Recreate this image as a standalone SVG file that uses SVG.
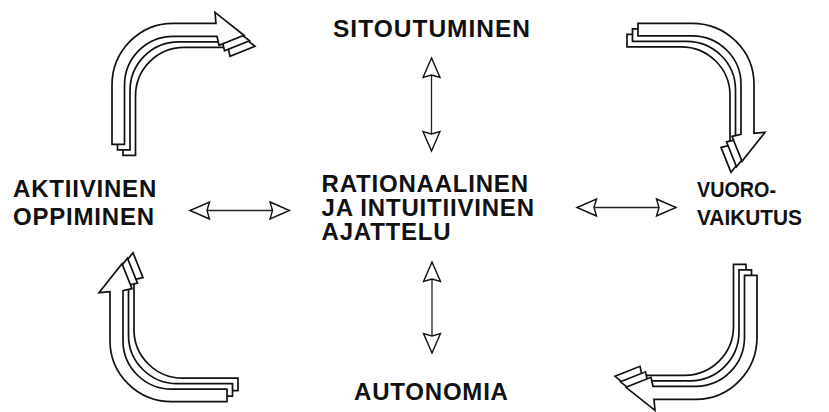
<svg xmlns="http://www.w3.org/2000/svg" xmlns:xlink="http://www.w3.org/1999/xlink" width="829" height="412" viewBox="0 0 829 412">
  <style>
    .band { fill: #fff; stroke: #111; stroke-width: 1.7; stroke-linejoin: miter; stroke-miterlimit: 6; }
    .link { stroke: #222; stroke-width: 1.3; fill: none; }
    .lbl { font-family: "Liberation Sans", Arial, sans-serif; font-weight: bold; font-size: 24px; letter-spacing: 0.8px; fill: #111; }
    .lbl-sm { font-size: 22px; letter-spacing: 0; }
  </style>
  <defs>
    <!-- open arrowhead for the two-way links -->
    <marker id="open-head" viewBox="0 0 20 18" refX="20" refY="9" markerWidth="20" markerHeight="18" markerUnits="userSpaceOnUse" orient="auto-start-reverse" overflow="visible">
      <path d="M0.5,0.5 L20,9 L0.5,17.5 L3,9 Z" fill="#fff" stroke="#111" stroke-width="1.4" stroke-linejoin="miter"/>
    </marker>
    <!-- curved band arrows, drawn around their centre of curvature:
         tail leg runs downward, head leg runs to the right -->
    <path id="band-tl" d="M-61,59 L-61,0 A61,62 0 0 1 0,-62 L43,-62 L42,-73 L71,-50 L46,-40 L44,-49 L0,-49 A48.5,49 0 0 0 -48.5,0 L-48.5,59 Z"/>
    <path id="band-tr" d="M-61,54 L-61,0 A61,62 0 0 1 0,-62 L49,-62 L48,-73 L77,-50 L52,-40 L50,-49 L0,-49 A48.5,49 0 0 0 -48.5,0 L-48.5,54 Z"/>
    <path id="band-br" d="M-61,62 L-61,0 A61,62 0 0 1 0,-62 L42,-62 L41,-73 L70,-50 L45,-40 L43,-49 L0,-49 A48.5,49 0 0 0 -48.5,0 L-48.5,62 Z"/>
    <path id="band-bl" d="M-61,55 L-61,0 A61,62 0 0 1 0,-62 L49,-62 L48,-73 L77,-50 L52,-40 L50,-49 L0,-49 A48.5,49 0 0 0 -48.5,0 L-48.5,55 Z"/>
  </defs>

  <rect width="829" height="412" fill="#fff"/>

  <!-- cycle arrows, three stacked bands each -->
  <g id="cycle-arrows">
    <g id="loop-top-left" class="band" transform="translate(173,85.3)">
      <use xlink:href="#band-tl" x="11" y="11"/>
      <use xlink:href="#band-tl" x="5.5" y="5.5"/>
      <use xlink:href="#band-tl"/>
    </g>
    <g id="loop-top-right" class="band" transform="translate(692,84.3) rotate(90)">
      <use xlink:href="#band-tr" x="11" y="11"/>
      <use xlink:href="#band-tr" x="5.5" y="5.5"/>
      <use xlink:href="#band-tr"/>
    </g>
    <g id="loop-bottom-right" class="band" transform="translate(696,337.3) rotate(180)">
      <use xlink:href="#band-br" x="11" y="11"/>
      <use xlink:href="#band-br" x="5.5" y="5.5"/>
      <use xlink:href="#band-br"/>
    </g>
    <g id="loop-bottom-left" class="band" transform="translate(172,340.7) rotate(270)">
      <use xlink:href="#band-bl" x="11" y="11"/>
      <use xlink:href="#band-bl" x="5.5" y="5.5"/>
      <use xlink:href="#band-bl"/>
    </g>
  </g>

  <!-- two-way links to the centre -->
  <g id="connectors" class="link" marker-start="url(#open-head)" marker-end="url(#open-head)">
    <line x1="431.5" y1="58" x2="431.5" y2="151"/>
    <line x1="432" y1="262" x2="432" y2="353"/>
    <line x1="190" y1="210.5" x2="289.5" y2="210.5"/>
    <line x1="577" y1="207.5" x2="676" y2="207.5"/>
  </g>

  <g id="node-sitoutuminen">
    <text class="lbl" x="333" y="36.5" style="font-size:24.5px;letter-spacing:1px">SITOUTUMINEN</text>
  </g>
  <g id="node-aktiivinen-oppiminen">
    <text class="lbl" x="13" y="196.5">AKTIIVINEN</text>
    <text class="lbl" x="13" y="225">OPPIMINEN</text>
  </g>
  <g id="node-ajattelu">
    <text class="lbl" x="321.5" y="191.5">RATIONAALINEN</text>
    <text class="lbl" x="321.5" y="215.5">JA INTUITIIVINEN</text>
    <text class="lbl" x="321.5" y="240">AJATTELU</text>
  </g>
  <g id="node-vuorovaikutus">
    <text class="lbl lbl-sm" x="697" y="196.5" textLength="79" lengthAdjust="spacingAndGlyphs">VUORO-</text>
    <text class="lbl lbl-sm" x="697" y="225" textLength="105" lengthAdjust="spacingAndGlyphs">VAIKUTUS</text>
  </g>
  <g id="node-autonomia">
    <text class="lbl" x="354" y="400">AUTONOMIA</text>
  </g>
</svg>
